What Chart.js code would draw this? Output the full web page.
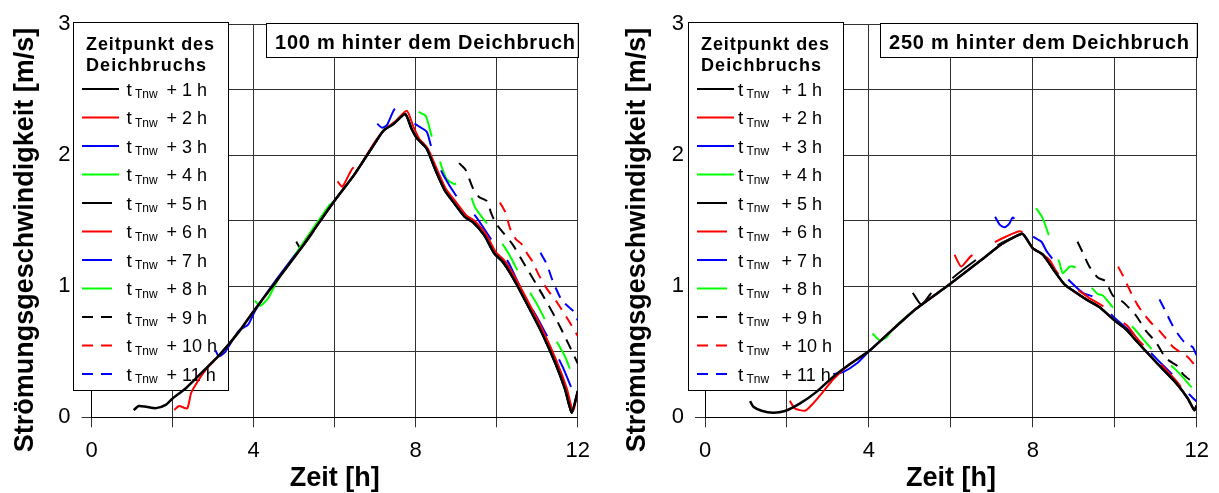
<!DOCTYPE html>
<html>
<head>
<meta charset="utf-8">
<script src="https://cdn.jsdelivr.net/npm/chart.js@4.4.1/dist/chart.umd.min.js"></script>
<style>
  body { margin: 0; background: #fff; width: 1219px; height: 493px; position: relative; overflow: hidden; }
  canvas { position: absolute; top: 0; }
  #c1 { left: 0; }
  #c2 { left: 610px; }
</style>
</head>
<body>
<canvas id="c1" width="600" height="493"></canvas>
<canvas id="c2" width="609" height="493"></canvas>
<script>
// [Zeit h, Geschwindigkeit m/s]

// --- 100 m hinter dem Deichbruch ---
const env100 = [[1.04,0.055],[1.16,0.086],[1.35,0.08],[1.59,0.07],[1.83,0.095],[2.0,0.144],[2.32,0.22],[2.73,0.345],[3.14,0.47],[3.63,0.65],[4.0,0.81],[4.44,0.99],[5.17,1.29],[5.99,1.65],[6.48,1.85],[7.01,2.10],[7.21,2.19],[7.46,2.24],[7.74,2.315],[7.9,2.2],[8.03,2.13],[8.27,2.05],[8.47,1.9],[8.72,1.73],[8.96,1.63],[9.21,1.53],[9.41,1.49],[9.69,1.39],[9.94,1.25],[10.14,1.19],[10.39,1.07],[10.79,0.84],[11.12,0.64],[11.45,0.41],[11.69,0.21],[11.85,0.035],[12.0,0.2]];
const red2_100 = [[2.04,0.056],[2.16,0.086],[2.36,0.068],[2.45,0.18],[2.53,0.23],[2.81,0.36],[3.14,0.47],[3.63,0.65],[4.0,0.81],[4.44,0.99],[5.17,1.29],[5.99,1.65],[6.48,1.85],[7.01,2.11],[7.25,2.2],[7.5,2.26],[7.78,2.34],[7.94,2.22],[8.08,2.13],[8.3,2.05],[8.5,1.91],[8.75,1.74],[9.0,1.64],[9.25,1.54],[9.45,1.5],[9.73,1.4],[9.98,1.26],[10.18,1.2],[10.43,1.08],[10.83,0.85],[11.16,0.65],[11.49,0.42],[11.73,0.22],[11.88,0.05],[12.0,0.19]];
const blue3_100 = [[3.06,0.51],[3.14,0.465],[3.3,0.5],[3.63,0.66],[3.87,0.71],[4.03,0.81],[4.44,1.0],[5.0,1.23],[5.17,1.29]];
const green4_100 = [[4.03,0.89],[4.16,0.85],[4.36,0.91],[4.6,1.05],[5.34,1.385],[5.87,1.62],[5.99,1.65]];
const black5_100 = [[5.05,1.34],[5.17,1.29]];
const red6_100 = [[6.07,1.8],[6.19,1.76],[6.44,1.9],[6.7,1.95]];
const blue7_100 = [[7.05,2.24],[7.17,2.21],[7.29,2.23],[7.5,2.36],[7.75,2.32],[7.98,2.24],[8.27,2.18],[8.37,2.08],[8.55,1.94],[8.68,1.85],[9.02,1.68],[9.25,1.6],[9.49,1.53],[9.9,1.34],[10.1,1.27],[10.31,1.17],[10.63,0.96],[11.0,0.76],[11.33,0.57],[11.65,0.37],[11.94,0.16],[12.0,0.2]];
const green8_100 = [[8.07,2.33],[8.25,2.3],[8.39,2.15],[8.6,1.95],[8.76,1.82],[8.95,1.78],[9.17,1.8],[9.29,1.75],[9.47,1.6],[9.86,1.44],[10.02,1.38],[10.31,1.24],[10.63,1.05],[11.0,0.86],[11.33,0.66],[11.69,0.46],[11.94,0.26],[12.0,0.25]];
const black9_100 = [[9.07,1.94],[9.23,1.89],[9.41,1.75],[9.57,1.68],[9.76,1.65],[9.86,1.56],[9.98,1.48],[10.39,1.32],[10.65,1.185],[11.12,0.94],[11.45,0.76],[11.77,0.56],[12.0,0.41]];
const red10_100 = [[10.08,1.64],[10.22,1.56],[10.33,1.44],[10.47,1.36],[10.62,1.32],[10.75,1.25],[10.88,1.19],[11.04,1.085],[11.24,0.98],[11.49,0.876],[11.77,0.74],[12.0,0.62]];
const blue11_100 = [[11.08,1.255],[11.2,1.19],[11.28,1.13],[11.37,1.05],[11.61,0.89],[11.89,0.81],[12.0,0.74]];

// --- 250 m hinter dem Deichbruch ---
const env250 = [[1.1,0.124],[1.18,0.08],[1.38,0.05],[1.66,0.035],[1.95,0.048],[2.32,0.106],[2.72,0.194],[3.13,0.31],[3.53,0.405],[4.02,0.51],[4.51,0.65],[5.16,0.83],[5.97,1.015],[6.78,1.21],[7.23,1.32],[7.51,1.37],[7.74,1.40],[7.83,1.37],[8.0,1.29],[8.25,1.24],[8.53,1.115],[8.77,1.015],[9.06,0.95],[9.3,0.9],[9.63,0.84],[9.99,0.74],[10.28,0.67],[10.52,0.585],[11.01,0.42],[11.5,0.26],[11.78,0.144],[11.94,0.055],[12.0,0.09]];
const red2_250 = [[2.07,0.126],[2.19,0.068],[2.44,0.05],[2.64,0.106],[2.88,0.194],[3.13,0.29],[3.53,0.405]];
const blue3_250 = [[3.13,0.33],[3.37,0.345],[3.7,0.41],[3.94,0.485],[4.02,0.51]];
const green4_250 = [[4.09,0.64],[4.27,0.585],[4.43,0.61],[4.6,0.68]];
const black5_250 = [[5.07,0.95],[5.28,0.86],[5.53,0.95],[5.8,0.99],[6.05,1.065],[6.61,1.2],[6.9,1.26],[7.23,1.33]];
const red6_250 = [[6.09,1.24],[6.25,1.15],[6.49,1.23],[6.75,1.27],[7.03,1.33],[7.35,1.38],[7.68,1.42],[7.85,1.39],[8.08,1.28],[8.41,1.2],[8.57,1.115],[8.8,1.03],[9.06,0.98],[9.38,0.91],[9.7,0.85],[10.03,0.76],[10.3,0.7],[10.55,0.6],[11.05,0.43],[11.52,0.27],[11.8,0.15],[11.95,0.06],[12.0,0.09]];
const blue7_250 = [[7.08,1.53],[7.19,1.47],[7.31,1.45],[7.43,1.48],[7.51,1.525],[7.75,1.45],[8.0,1.38],[8.21,1.34],[8.33,1.27],[8.45,1.22],[8.7,1.11],[8.9,1.04],[9.22,0.95],[9.55,0.91],[9.99,0.76],[10.44,0.64],[10.52,0.61],[11.01,0.45],[11.5,0.295],[11.8,0.18],[12.0,0.12]];
const green8_250 = [[8.08,1.595],[8.24,1.52],[8.39,1.39],[8.65,1.18],[8.73,1.1],[8.9,1.15],[9.06,1.14],[9.3,1.04],[9.46,0.98],[9.59,0.94],[9.71,0.93],[9.95,0.84],[10.48,0.674],[10.93,0.51],[11.5,0.36],[11.98,0.19]];
const black9_250 = [[9.09,1.34],[9.22,1.255],[9.38,1.15],[9.59,1.065],[9.77,1.04],[9.95,0.93],[10.2,0.88],[10.52,0.775],[10.76,0.66],[11.01,0.57],[11.25,0.45],[11.58,0.38],[11.66,0.33],[11.9,0.27],[12.0,0.25]];
const red10_250 = [[10.08,1.15],[10.2,1.08],[10.32,1.0],[10.41,0.94],[10.55,0.86],[10.68,0.8],[10.89,0.72],[11.09,0.66],[11.25,0.6],[11.41,0.54],[11.58,0.5],[11.78,0.46],[12.0,0.38]];
const blue11_250 = [[11.09,0.9],[11.21,0.826],[11.29,0.775],[11.41,0.7],[11.54,0.636],[11.7,0.573],[11.9,0.535],[12.0,0.47]];

const breachHours = [1, 2, 3, 4, 5, 6, 7, 8, 9, 10, 11];
const xTicks = [0, 4, 8, 12];
const yTicks = [0, 1, 2, 3];

const colors = ['#000000', '#ff0000', '#0000ff', '#00ff00', '#000000', '#ff0000', '#0000ff', '#00ff00', '#000000', '#ff0000', '#0000ff'];
const longDash = [30, 26];
const shortDash = [11, 8];
const dashes = [[], [], [], [], longDash, longDash, longDash, longDash, shortDash, shortDash, shortDash];

const FONT = '"Liberation Sans", Arial, sans-serif';

// curve start + the shared curve after it
function withTail(head, env) {
    const last = head[head.length - 1][0];
    return head.concat(env.filter(p => p[0] > last));
}

function fitText(ctx, text, x, y, width) {
    ctx.letterSpacing = '0px';
    const w = ctx.measureText(text).width;
    ctx.letterSpacing = ((width - w) / (text.length - 1)) + 'px';
    ctx.fillText(text, x, y);
    ctx.letterSpacing = '0px';
}

const framePlugin = {
    id: 'frame',
    // boxes go under the curves, over the grid
    beforeDatasetsDraw(chart, args, opts) {
        const { ctx, chartArea: a } = chart;
        ctx.save();

        const tx = Math.round(a.left + 174.5), ty = 23;
        ctx.fillStyle = '#fff';
        ctx.fillRect(tx, ty, a.right - tx, 34);
        ctx.strokeStyle = '#000';
        ctx.lineWidth = 1;
        ctx.strokeRect(tx + 0.5, ty + 0.5, Math.round(a.right - tx), 34);
        ctx.fillStyle = '#000';
        ctx.textAlign = 'left';
        ctx.textBaseline = 'alphabetic';
        ctx.font = 'bold 20px ' + FONT;
        fitText(ctx, opts.title, tx + 9, ty + 26, 300);

        const bx = Math.round(opts.legendLeft), by = 22;
        ctx.fillStyle = '#fff';
        ctx.fillRect(bx, by, 155, 368);
        ctx.strokeRect(bx + 0.5, by + 0.5, 155, 368);
        ctx.fillStyle = '#000';
        ctx.font = 'bold 18px ' + FONT;
        fitText(ctx, 'Zeitpunkt des', bx + 13, 50, 128);
        fitText(ctx, 'Deichbruchs', bx + 13, 71, 120);

        breachHours.forEach((h, i) => {
            const y = 89 + i * 28.5;
            ctx.beginPath();
            ctx.setLineDash(dashes[i]);
            ctx.strokeStyle = colors[i];
            ctx.lineWidth = 2;
            ctx.moveTo(bx + 9, y);
            ctx.lineTo(bx + 46, y);
            ctx.stroke();
            ctx.setLineDash([]);
            ctx.fillStyle = '#000';
            ctx.font = '19px ' + FONT;
            ctx.fillText('t', bx + opts.tDx, y + 6.7);
            ctx.font = '12px ' + FONT;
            ctx.fillText('Tnw', bx + opts.tDx + 8.5, y + 9.3);
            ctx.font = '18px ' + FONT;
            ctx.fillText('+ ' + h + ' h', bx + 93.5, y + 6.7);
        });
        ctx.restore();
    },
    afterDraw(chart, args, opts) {
        const { ctx, chartArea: a } = chart;
        ctx.save();
        ctx.fillStyle = '#000';
        ctx.font = 'bold 27px ' + FONT;
        ctx.textAlign = 'center';
        ctx.textBaseline = 'alphabetic';
        ctx.fillText('Zeit [h]', (a.left + a.right) / 2, 486);
        ctx.translate(opts.yTitleX, 240);
        ctx.rotate(-Math.PI / 2);
        ctx.fillText('Strömungsgeschwindigkeit [m/s]', 0, 0);
        ctx.restore();
    }
};

function makeChart(id, curves, opts) {
    const ctx = document.getElementById(id);
    if (!ctx) return;

    new Chart(ctx, {
        type: 'line',
        data: {
            datasets: curves.map((pts, i) => ({
                label: 'tTnw + ' + breachHours[i] + ' h',
                data: pts.map(p => ({ x: p[0], y: p[1] })),
                borderColor: colors[i],
                borderDash: dashes[i],
                borderWidth: i === 0 ? 2.5 : 2,
                pointRadius: 0,
                tension: 0.2,
                fill: false
            }))
        },
        options: {
            responsive: false,
            animation: false,
            layout: { padding: { top: 21.3, right: opts.padRight, left: 0, bottom: 0 } },
            plugins: {
                legend: { display: false },
                tooltip: { enabled: false },
                frame: opts
            },
            scales: {
                x: {
                    type: 'linear',
                    min: 0,
                    max: 12,
                    ticks: {
                        stepSize: 2,
                        autoSkip: false,
                        maxRotation: 0,
                        padding: 10,
                        color: '#000',
                        font: { family: FONT, size: 22 },
                        callback: v => xTicks.includes(v) ? String(v) : ''
                    },
                    grid: { color: '#333', tickLength: 10 },
                    border: { color: '#000' },
                    afterFit: s => { s.height = 75.7; }
                },
                y: {
                    min: 0,
                    max: 3,
                    ticks: {
                        stepSize: 0.5,
                        autoSkip: false,
                        padding: 11,
                        color: '#000',
                        font: { family: FONT, size: 22 },
                        callback: v => yTicks.includes(v) ? String(v) : ''
                    },
                    grid: { color: '#333', tickLength: 10 },
                    border: { color: '#000' },
                    afterFit: s => { s.width = opts.yWidth; }
                }
            }
        },
        plugins: [framePlugin]
    });
}

makeChart('c1', [
    env100,
    red2_100,
    withTail(blue3_100, env100),
    withTail(green4_100, env100),
    withTail(black5_100, env100),
    withTail(red6_100, env100),
    blue7_100,
    green8_100,
    black9_100,
    red10_100,
    blue11_100
], { title: '100 m hinter dem Deichbruch', yWidth: 91.6, padRight: 17.3, legendLeft: 73.3, tDx: 53.4, yTitleX: 33 });

makeChart('c2', [
    env250,
    withTail(red2_250, env250),
    withTail(blue3_250, env250),
    withTail(green4_250, env250),
    withTail(black5_250, env250),
    red6_250,
    blue7_250,
    green8_250,
    black9_250,
    red10_250,
    blue11_250
], { title: '250 m hinter dem Deichbruch', yWidth: 95, padRight: 21.7, legendLeft: 78.3, tDx: 50, yTitleX: 35 });
</script>
</body>
</html>
